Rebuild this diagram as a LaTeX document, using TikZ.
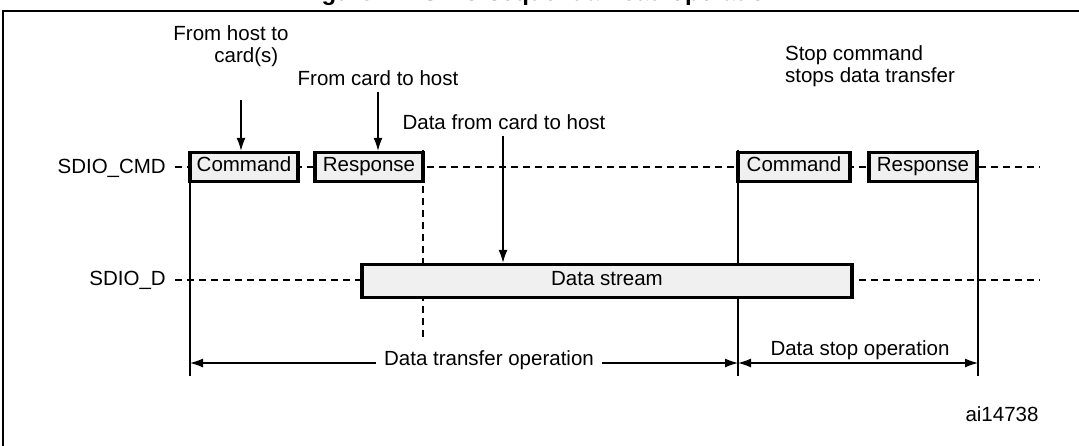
\documentclass[tikz,border=0pt]{standalone}
\usepackage{fontspec}
\setmainfont{Liberation Sans}
\usetikzlibrary{arrows.meta}
\begin{document}
\begin{tikzpicture}[x=1pt,y=-1pt,
  lab/.style={font=\fontsize{20.5}{22}\selectfont, inner sep=0pt, align=center},
  sig/.style={draw, line width=3.4pt, fill=black!6, inner sep=0pt, text height=14pt, text depth=4pt, font=\fontsize{20.5}{22}\selectfont},
  dsh/.style={dashed, dash pattern=on 7pt off 5pt, line width=1.1pt},
  tip/.tip={Latex[length=13pt,width=9pt]},
  arr/.style={-tip, line width=1.3pt},
  every node/.style={lab}]
\useasboundingbox (0,0) rectangle (1079,446);
\begin{scope}
\clip (0,0) rectangle (1079,446);
\node[font=\bfseries\fontsize{24}{26}\selectfont, anchor=base] (title) at (540,1) {Figure 14. SDIO sequential read operation};
\draw[line width=2pt] (3,450) -- (3,11) -- (1085,11);
\end{scope}
% signal labels
\node[anchor=east] (cmd) at (166,168) {SDIO\_CMD};
\node[anchor=east] (dat) at (166,280) {SDIO\_D};
\draw[dsh] (175,167) -- (1040,167);
\draw[dsh] (175,280) -- (1040,280);
% vertical lines
\draw[line width=1.1pt] (190,152) -- (190,376);
\draw[line width=1.1pt] (738,150) -- (738,376);
\draw[line width=1.1pt] (978,150) -- (978,376);
\draw[dsh] (423,150) -- (423,337);
% boxes
\node[sig, minimum width=108pt, minimum height=29pt] (c1) at (244,167) {Command};
\node[sig, minimum width=108pt, minimum height=29pt] (r1) at (369,167) {Response};
\node[sig, minimum width=112pt, minimum height=29pt] (c2) at (794,167) {Command};
\node[sig, minimum width=108pt, minimum height=29pt] (r2) at (923,167) {Response};
\node[sig, minimum width=490pt, minimum height=33pt] (ds) at (607,281) {Data stream};
% annotations
\node (t1) at (231,46) {From host to\\\hspace*{1.5em}card(s)};
\node (t2) at (378,78) {From card to host};
\node (t3) at (504,122) {Data from card to host};
\node[align=left] (t4) at (870,66) {Stop command\\stops data transfer};
\draw[arr] (241,100) -- (c1.north -| 241,0);
\draw[arr] (378,92) -- (r1.north -| 378,0);
\draw[arr] (503,136) -- (ds.north -| 503,0);
% operation arrows
\node (op1) at (489,360) {Data transfer operation};
\node (op2) at (860,350) {Data stop operation};
\coordinate (a) at (190,363);
\coordinate (b) at (738,363);
\coordinate (c) at (978,363);
\draw[arr] (op1.west) ++(-8,3) -- (a);
\draw[arr] (op1.east) ++(8,3) -- (b);
\draw[tip-tip, line width=1.3pt] (b) -- (c);
\node (id) at (1002,414) {ai14738};
\end{tikzpicture}
\end{document}
